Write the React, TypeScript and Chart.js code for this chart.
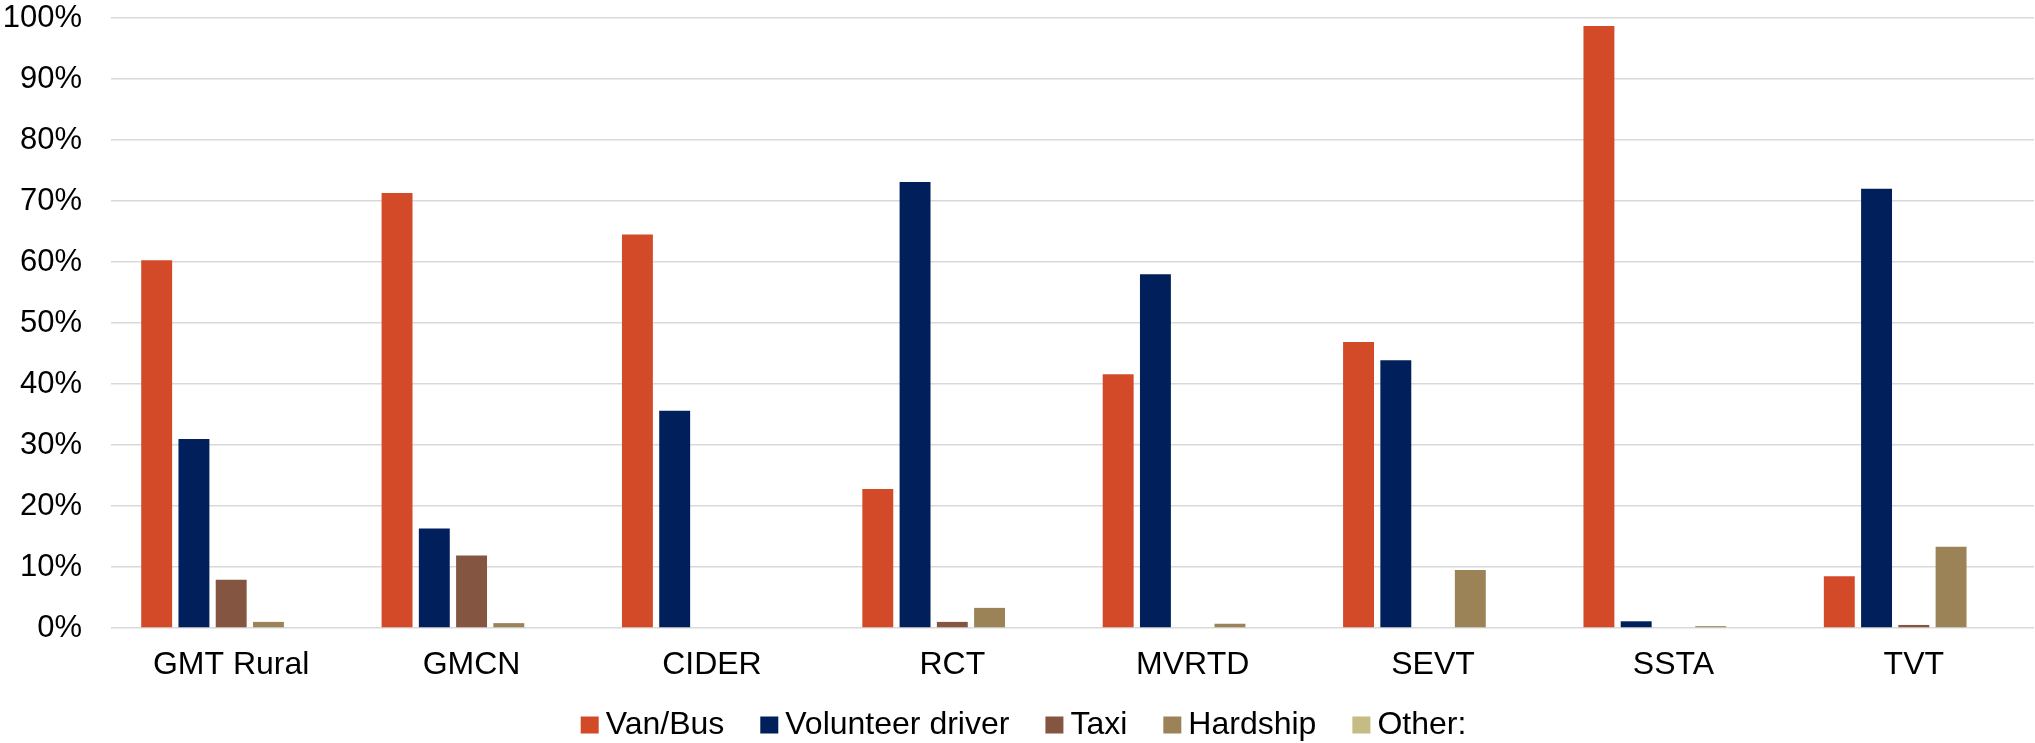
import React, { useEffect, useRef } from "react";
import { Chart, registerables } from "chart.js";

Chart.register(...registerables);

const categories = ["GMT Rural", "GMCN", "CIDER", "RCT", "MVRTD", "SEVT", "SSTA", "TVT"];
const seriesNames = ["Van/Bus", "Volunteer driver", "Taxi", "Hardship", "Other:"];
const vanBus = [60.3, 71.3, 64.5, 22.8, 41.6, 46.9, 98.7, 8.5];
const volunteer = [31.0, 16.3, 35.6, 73.1, 58.0, 43.9, 1.1, 72.0];
const taxi = [7.9, 11.9, 0, 1.0, 0, 0, 0, 0.5];
const hardship = [1.0, 0.8, 0, 3.3, 0.7, 9.5, 0.3, 13.3];
const other = [0, 0, 0, 0, 0, 0, 0, 0];
const seriesColors = ["#D34A29", "#001F5B", "#845641", "#9C8357", "#C4BC82"];
const yTicks = [0, 10, 20, 30, 40, 50, 60, 70, 80, 90, 100];

const W = 2035;
const H = 743;
const PLOT_TOP = 18;
const PLOT_BOTTOM = 628;
const FONT = "'Liberation Sans', Arial, sans-serif";

const customLegend = {
  id: "customLegend",
  afterDraw(chart: any) {
    const ctx = chart.ctx;
    ctx.save();
    ctx.font = `32px ${FONT}`;
    ctx.textBaseline = "middle";
    ctx.textAlign = "left";
    const boxW = 18;
    const boxH = 17;
    const gapText = 7;
    const gapItem = 36;
    const items = chart.data.datasets.map((d: any) => ({
      text: d.label,
      color: d.backgroundColor,
      w: ctx.measureText(d.label).width,
    }));
    const total =
      items.reduce((s: number, it: any) => s + boxW + gapText + it.w, 0) +
      gapItem * (items.length - 1);
    let x = 1023.5 - total / 2;
    const cy = 725;
    for (const it of items) {
      ctx.fillStyle = it.color;
      ctx.fillRect(x, cy - boxH / 2, boxW, boxH);
      ctx.fillStyle = "#000";
      ctx.fillText(it.text, x + boxW + gapText, cy);
      x += boxW + gapText + it.w + gapItem;
    }
    ctx.restore();
  },
};

export default function App() {
  const ref = useRef<HTMLCanvasElement | null>(null);

  useEffect(() => {
    document.body.style.margin = "0";
    const canvas = ref.current;
    if (!canvas) return;
    const values = [vanBus, volunteer, taxi, hardship, other];
    const chart = new Chart(canvas, {
      type: "bar",
      data: {
        labels: categories,
        datasets: seriesNames.map((name, i) => ({
          label: name,
          data: values[i],
          backgroundColor: seriesColors[i],
          borderWidth: 0,
          categoryPercentage: 0.775,
          barPercentage: 0.83,
        })),
      },
      options: {
        responsive: false,
        animation: false,
        devicePixelRatio: 1,
        layout: { padding: { top: 0, left: 0, right: 1, bottom: 0 } },
        plugins: {
          legend: { display: false },
          tooltip: { enabled: false },
        },
        scales: {
          x: {
            grid: { display: false, drawTicks: false },
            border: { display: false },
            ticks: {
              color: "#000",
              font: { family: FONT, size: 32 },
              padding: 18,
              maxRotation: 0,
              autoSkip: false,
            },
            afterFit(scale: any) {
              scale.height = H - PLOT_BOTTOM;
            },
          },
          y: {
            min: 0,
            max: 100,
            afterBuildTicks(scale: any) {
              scale.ticks = yTicks.map((v) => ({ value: v }));
            },
            grid: { color: "#D9D9D9", lineWidth: 1.5, drawTicks: false },
            border: { display: false },
            ticks: {
              color: "#000",
              font: { family: FONT, size: 31 },
              padding: 29,
              callback: (v: any) => `${v}%`,
            },
            afterFit(scale: any) {
              scale.width = 111;
              scale.paddingTop = PLOT_TOP;
              scale.paddingBottom = 0;
            },
          },
        },
      },
      plugins: [customLegend],
    });
    return () => chart.destroy();
  }, []);

  return (
    <div style={{ width: W, height: H, background: "#fff" }}>
      <canvas ref={ref} width={W} height={H} style={{ display: "block" }} />
    </div>
  );
}
